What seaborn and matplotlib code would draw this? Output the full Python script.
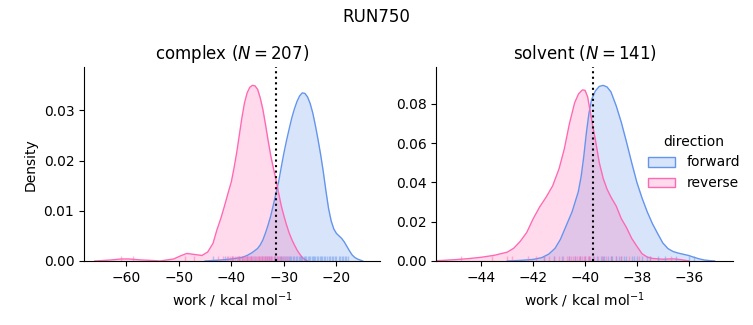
import matplotlib
matplotlib.use("Agg")
import matplotlib.pyplot as plt
from matplotlib.patches import Patch
import matplotlib.colors as mcolors
import seaborn as sns
import pandas as pd

plt.rcParams['font.family'] = ['DejaVu Sans']

FWD = "#6495ED"
REV = "#FF69B4"

# ---------------- data ----------------
cx_fwd_x = [-45, -42, -40, -38, -37, -36, -35, -34.5, -34, -33.5, -33, -32.5, -32, -31.5, -31,
            -30.5, -30, -29.5, -29, -28.5, -28, -27.5, -27, -26.5, -26, -25.5, -25, -24.5, -24,
            -23.5, -23, -22.5, -22, -21.5, -21, -20.5, -20, -19.5, -19, -18.5, -18, -17.5, -17,
            -16.5, -16, -15.5, -15]
cx_fwd_y = [0, 0.0002, 0.0004, 0.0007, 0.0011, 0.0017, 0.0025, 0.0032, 0.0042, 0.0056, 0.0072,
            0.0090, 0.0112, 0.0135, 0.0158, 0.0187, 0.0215, 0.0240, 0.0263, 0.0285, 0.0303,
            0.0318, 0.0329, 0.0335, 0.0334, 0.0327, 0.0314, 0.0295, 0.0270, 0.0242, 0.0212,
            0.0178, 0.0140, 0.0105, 0.0080, 0.0064, 0.0055, 0.0050, 0.0045, 0.0038, 0.0029,
            0.0020, 0.0012, 0.0007, 0.0004, 0.0002, 0]

cx_rev_x = [-66, -63, -61, -59.5, -57, -55, -53.6, -51, -49.5, -48.5, -47, -45.6, -44.5, -43.5,
            -42.75, -42, -41.3, -40.5, -40, -39.5, -39, -38.5, -38, -37.5, -37, -36.5, -36,
            -35.5, -35, -34.5, -34, -33.5, -33, -32.5, -32, -31.5, -31, -30.5, -30, -29.5, -29,
            -28.5, -28, -27.5, -27, -26.5, -26, -25.5]
cx_rev_y = [0, 0.0002, 0.0004, 0.0004, 0.0002, 0.0001, 0.0, 0.0004, 0.0011, 0.0015, 0.0013,
            0.0011, 0.0018, 0.0035, 0.0062, 0.0085, 0.0110, 0.0140, 0.0158, 0.0185, 0.0215,
            0.0250, 0.0285, 0.0315, 0.0335, 0.0346, 0.0350, 0.0349, 0.0342, 0.0325, 0.0302,
            0.0272, 0.0240, 0.0210, 0.0185, 0.0162, 0.0135, 0.0110, 0.0090, 0.0072, 0.0056,
            0.0043, 0.0032, 0.0022, 0.0014, 0.0007, 0.0003, 0]

sv_fwd_x = [-43, -42.5, -42, -41.67, -41.4, -41.16, -40.95, -40.77, -40.5, -40.26, -40.15,
            -40.05, -39.95, -39.85, -39.75, -39.6, -39.45, -39.3, -39.15, -39.0, -38.8, -38.6,
            -38.4, -38.2, -38.0, -37.8, -37.6, -37.4, -37.2, -37.0, -36.8, -36.6, -36.4, -36.2,
            -36.0, -35.8, -35.6, -35.4, -35.2, -35.0]
sv_fwd_y = [0, 0.0003, 0.0008, 0.0017, 0.0035, 0.0064, 0.0110, 0.0166, 0.025, 0.0352, 0.043,
            0.053, 0.065, 0.075, 0.082, 0.0865, 0.0888, 0.0893, 0.0885, 0.0860, 0.0790, 0.0705,
            0.0605, 0.0500, 0.0400, 0.0320, 0.0250, 0.0190, 0.0140, 0.0092, 0.0063, 0.0048,
            0.0040, 0.0034, 0.0028, 0.0019, 0.0011, 0.0005, 0.0002, 0]

sv_rev_x = [-46, -45.5, -45, -44.5, -44, -43.5, -43, -42.75, -42.5, -42.25, -42, -41.75, -41.5,
            -41.25, -41.0, -40.8, -40.6, -40.4, -40.25, -40.1, -40.0, -39.9, -39.8, -39.7,
            -39.6, -39.45, -39.3, -39.15, -39.0, -38.8, -38.6, -38.4, -38.2, -38.0, -37.8,
            -37.6, -37.4, -37.0, -36.6, -36.3, -36.0]
sv_rev_y = [0, 0.0003, 0.0007, 0.0012, 0.0019, 0.0029, 0.0045, 0.0065, 0.0100, 0.0145, 0.0215,
            0.0275, 0.0325, 0.0382, 0.0470, 0.0570, 0.0700, 0.0805, 0.0850, 0.0870, 0.0868,
            0.0835, 0.0760, 0.0685, 0.0615, 0.0500, 0.0420, 0.0365, 0.0325, 0.0280, 0.0215,
            0.0170, 0.0115, 0.0075, 0.0037, 0.0020, 0.0013, 0.0009, 0.0011, 0.0007, 0]

cx_fwd_rug = [-43.5, -41.2, -39.8, -38.6, -37.9, -37.0, -36.3, -35.5, -34.8, -34.1, -33.6, -33.2,
              -32.8, -32.4, -31.9, -31.6, -31.3, -30.8, -30.5, -30.2, -29.7, -29.4, -29.1, -28.8,
              -28.6, -28.3, -28.0, -27.7, -27.5, -27.2, -27.0, -26.7, -26.5, -26.2, -26.0, -25.7,
              -25.5, -25.2, -25.0, -24.7, -24.5, -24.2, -24.0, -23.7, -23.5, -23.2, -23.0,
              -22.7, -22.4, -22.1, -21.8, -21.5, -21.2, -20.9, -20.6, -20.3, -20.0, -19.6,
              -19.4, -19.0, -18.8, -18.4, -18.2, -17.7]
cx_rev_rug = [-61.0, -58.7, -48.8, -47.2, -42.6, -41.5, -40.9, -40.6, -40.2, -39.9, -39.6, -39.3,
              -39.0, -38.8, -38.5, -38.3, -38.0, -37.8, -37.6, -37.4, -37.2, -37.0, -36.8, -36.6,
              -36.4, -36.2, -36.0, -35.8, -35.6, -35.4, -35.2, -35.0, -34.8, -34.6, -34.4, -34.2,
              -34.0, -33.8, -33.6, -33.4, -33.2, -33.0, -32.8, -32.6, -32.4, -32.2, -31.9,
              -31.7, -31.4, -31.2, -30.9, -30.6, -30.3, -30.0, -29.6, -29.3]
sv_fwd_rug = [-41.6, -41.2, -40.9, -40.6, -40.4, -40.2, -40.0, -39.85, -39.7, -39.55, -39.4,
              -39.3, -39.25, -39.1, -39.0, -38.95, -38.8, -38.7, -38.6, -38.5, -38.4, -38.2,
              -38.1, -38.0, -37.8, -37.6, -37.5, -37.2, -36.9, -36.5, -36.0, -35.8]
sv_rev_rug = [-44.8, -43.6, -43.0, -42.8, -42.2, -41.9, -41.6, -41.4, -41.2, -41.0, -40.85, -40.7,
              -40.6, -40.55, -40.45, -40.4, -40.3, -40.25, -40.2, -40.1, -40.05, -40.0, -39.9,
              -39.85, -39.8, -39.65, -39.5, -39.35, -39.2, -39.0, -38.8, -38.6, -38.3, -37.9,
              -37.5, -36.7]

titles = ["complex ($N = 207$)", "solvent ($N = 141$)"]
dg_lines = [-31.5, -39.71]
xlims = [(-68.06, -11.7), (-45.74, -34.29)]
ylims = [(0, 0.0386), (0, 0.0985)]
xticks = [[-60, -50, -40, -30, -20], [-44, -42, -40, -38, -36]]
yticks = [[0.00, 0.01, 0.02, 0.03], [0.00, 0.02, 0.04, 0.06, 0.08]]

curves = [
    [(cx_fwd_x, cx_fwd_y, FWD), (cx_rev_x, cx_rev_y, REV)],
    [(sv_fwd_x, sv_fwd_y, FWD), (sv_rev_x, sv_rev_y, REV)],
]
rugs = [[(cx_fwd_rug, FWD), (cx_rev_rug, REV)], [(sv_fwd_rug, FWD), (sv_rev_rug, REV)]]

# ---------------- figure ----------------
fig = plt.figure(figsize=(7.53, 3.25), dpi=100)
ax1 = fig.add_axes([84 / 753, 1 - 261 / 325, (380 - 84) / 753, (261 - 67.3) / 325])
ax2 = fig.add_axes([436.3 / 753, 1 - 261 / 325, (733 - 436.3) / 753, (261 - 67.3) / 325])
axes = [ax1, ax2]

for i, ax in enumerate(axes):
    for xs, ys, c in curves[i]:
        df = pd.DataFrame({"x": xs, "y": ys})
        ax.fill_between(df["x"], 0, df["y"], color=c, alpha=0.25, linewidth=0)
        sns.lineplot(data=df, x="x", y="y", ax=ax, color=c, linewidth=1, sort=False)
    for vals, c in rugs[i]:
        sns.rugplot(x=vals, ax=ax, color=c, alpha=0.45, height=0.025, linewidth=1)
    ax.axvline(dg_lines[i], color="black", linestyle=":", linewidth=1.5)
    ax.set_xlim(*xlims[i])
    ax.set_ylim(*ylims[i])
    ax.set_xticks(xticks[i])
    ax.set_yticks(yticks[i])
    ax.set_title(titles[i], fontsize=12)
    ax.set_xlabel("work / kcal mol$^{-1}$", fontsize=10)
    ax.set_ylabel("Density" if i == 0 else "", fontsize=10)
    ax.tick_params(labelsize=10)
    sns.despine(ax=ax)

fig.suptitle("RUN750", fontsize=12, y=0.975)

handles = [Patch(facecolor=(*mcolors.to_rgb(FWD), 0.25), edgecolor=FWD),
           Patch(facecolor=(*mcolors.to_rgb(REV), 0.25), edgecolor=REV)]
fig.legend(handles, ["forward", "reverse"], title="direction", frameon=False,
           loc="center left", bbox_to_anchor=(635 / 753, 0.50), fontsize=10, title_fontsize=10)

fig.savefig("out.png", dpi=100)
